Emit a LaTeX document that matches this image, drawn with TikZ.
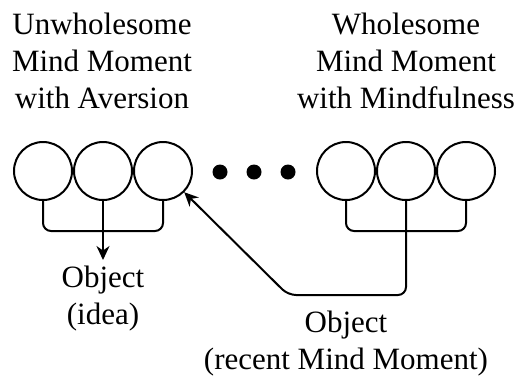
\documentclass[tikz,border=0pt]{standalone}
\usepackage{fontspec}
\setmainfont{Liberation Serif}
\usetikzlibrary{arrows.meta, positioning}

\begin{document}
\begin{tikzpicture}[x=1pt, y=-1pt,
    moment/.style={draw, circle, line width=2pt, minimum size=58pt, inner sep=0pt},
    gapdot/.style={fill, circle, minimum size=15pt, inner sep=0pt},
    caption/.style={align=center, inner sep=0pt, font=\fontsize{31}{37}\selectfont},
    link/.style={line width=2pt, rounded corners=8pt},
    >={Stealth[length=14pt, width=13pt]}]
    \useasboundingbox (0,0) rectangle (518,376);

    % mind moments
    \foreach \i/\x in {1/43,2/103,3/163}{
        \node[moment] (u\i) at (\x,171) {};
    }
    \foreach \i/\x in {1/220,2/254,3/288}{
        \node[gapdot] (d\i) at (\x,172) {};
    }
    \foreach \i/\x in {1/346,2/406,3/466}{
        \node[moment] (w\i) at (\x,171) {};
    }

    % captions
    \node[caption, anchor=north] (utitle) at (102,13) {Unwholesome\\Mind Moment\\with Aversion};
    \node[caption, anchor=north] (wtitle) at (406,13) {Wholesome\\Mind Moment\\with Mindfulness};
    \node[caption, anchor=north] (idea) at (103,266) {Object\\(idea)};
    \node[caption, anchor=north] (recent) at (346,311) {Object\\(recent Mind Moment)};
    \coordinate (bend) at (288,295);

    % connectors
    \draw[link] (u1.south) -- ++(0,30) -| (u3.south);
    \draw[link,->,shorten >=6pt] (u2.south) -- (idea.north);
    \draw[link] (w1.south) -- ++(0,30) -| (w3.south);
    \draw[link,->] (w2.south) |- (bend) -- (u3.south east);
\end{tikzpicture}
\end{document}
